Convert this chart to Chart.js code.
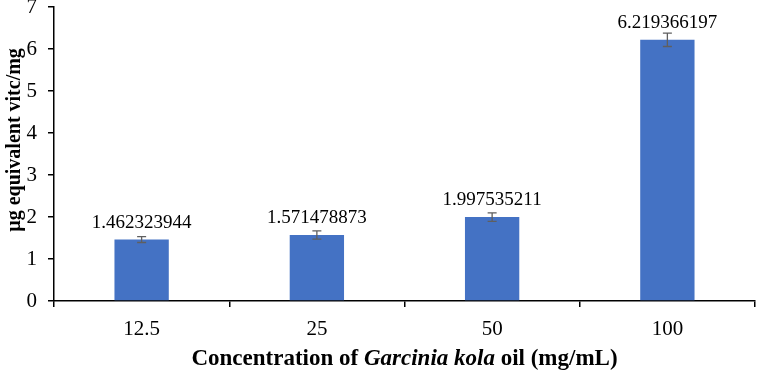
<!DOCTYPE html>
<html><head><meta charset="utf-8">
<script src="https://cdn.jsdelivr.net/npm/chart.js@4"></script>
<style>html,body{margin:0;padding:0;background:#fff}#wrap{width:757px;height:372px}</style>
</head><body><div id="wrap"><canvas id="c" width="757" height="372"></canvas></div>
<script>
const categories = ["12.5", "25", "50", "100"];
const values = [1.462323944, 1.571478873, 1.997535211, 6.219366197];
const errors = [0.07, 0.1, 0.1, 0.16];
const labels = ["1.462323944", "1.571478873", "1.997535211", "6.219366197"];
const yTicks = [0, 1, 2, 3, 4, 5, 6, 7];

const SERIF = "'Liberation Serif', 'Times New Roman', serif";

const extras = {
  id: 'extras',
  afterDatasetsDraw(chart) {
    const ctx = chart.ctx, x = chart.scales.x, y = chart.scales.y;
    const meta = chart.getDatasetMeta(0);
    ctx.save();
    ctx.strokeStyle = '#5f5f5f';
    ctx.lineWidth = 1.3;
    values.forEach((v, i) => {
      const cx = meta.data[i].x;
      const top = y.getPixelForValue(v + errors[i]);
      const bot = y.getPixelForValue(v - errors[i]);
      ctx.beginPath();
      ctx.moveTo(cx, top); ctx.lineTo(cx, bot);
      ctx.moveTo(cx - 4.5, top); ctx.lineTo(cx + 4.5, top);
      ctx.moveTo(cx - 4.5, bot); ctx.lineTo(cx + 4.5, bot);
      ctx.stroke();
    });
    ctx.fillStyle = '#000';
    ctx.font = '19px ' + SERIF;
    ctx.textAlign = 'center';
    ctx.textBaseline = 'alphabetic';
    values.forEach((v, i) => {
      const cx = meta.data[i].x;
      ctx.fillText(labels[i], cx, y.getPixelForValue(v) - 12);
    });
    // x axis title with mixed styles
    const parts = [
      ['bold ', 'Concentration of '],
      ['italic bold ', 'Garcinia kola'],
      ['bold ', ' oil (mg/mL)']
    ];
    let total = 0;
    parts.forEach(p => { ctx.font = p[0] + '23px ' + SERIF; total += ctx.measureText(p[1]).width; });
    let sx = (x.left + x.right) / 2 - total / 2;
    ctx.textAlign = 'left';
    parts.forEach(p => { ctx.font = p[0] + '23px ' + SERIF; ctx.fillText(p[1], sx, 365); sx += ctx.measureText(p[1]).width; });
    // y axis title
    ctx.translate(20, 140);
    ctx.rotate(-Math.PI / 2);
    ctx.textAlign = 'center';
    ctx.font = 'bold 20px ' + SERIF;
    ctx.fillText('\u00b5g equivalent vitc/mg', 0, 0);
    ctx.restore();
  }
};

new Chart(document.getElementById('c'), {
  type: 'bar',
  data: {
    labels: categories,
    datasets: [{
      data: values,
      backgroundColor: '#4472C4',
      categoryPercentage: 1,
      barPercentage: 0.31
    }]
  },
  options: {
    responsive: false,
    animation: false,
    layout: { padding: { left: 0, top: 7, right: 2, bottom: 0 } },
    plugins: { legend: { display: false }, tooltip: { enabled: false } },
    scales: {
      x: {
        grid: { offset: true, drawOnChartArea: false, drawTicks: true, tickLength: 6, color: '#000', lineWidth: 1.5 },
        border: { color: '#000', width: 1.5 },
        ticks: { color: '#000', font: { family: SERIF, size: 21 }, padding: 10 },
        afterFit(s) { s.height = 71; s.paddingLeft = 0; s.paddingRight = 0; }
      },
      y: {
        min: 0, max: 7,
        afterBuildTicks(s) { s.ticks = yTicks.map(v => ({ value: v })); },
        grid: { drawOnChartArea: false, drawTicks: true, tickLength: 6, color: '#000', lineWidth: 1.5 },
        border: { color: '#000', width: 1.5 },
        ticks: { color: '#000', font: { family: SERIF, size: 21 }, padding: 11 },
        afterFit(s) { s.width = 54; s.paddingTop = 0; s.paddingBottom = 0; }
      }
    }
  },
  plugins: [extras]
});
</script></body></html>
